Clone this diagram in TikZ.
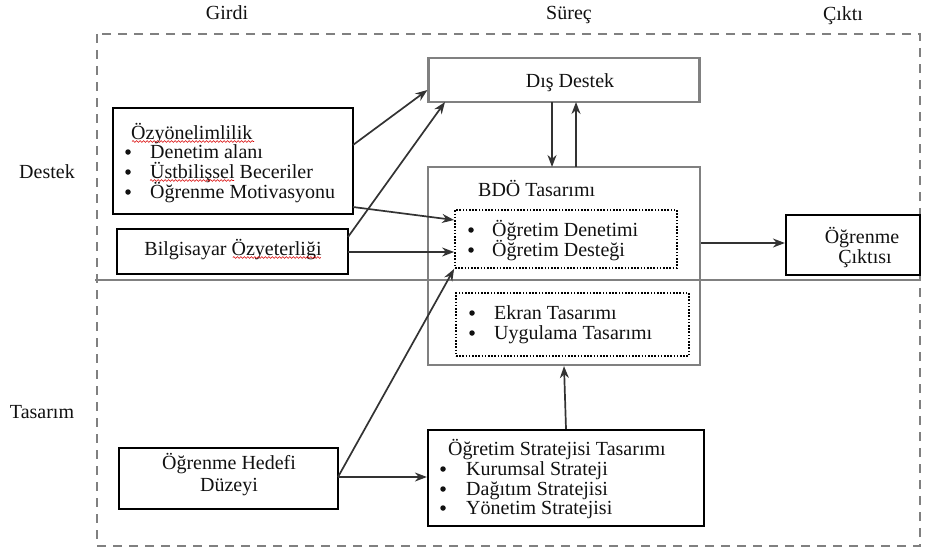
\documentclass[tikz,border=0pt]{standalone}
\usepackage{fontspec}
\setmainfont{Liberation Serif}
\usetikzlibrary{arrows.meta,decorations.pathmorphing}

\definecolor{frame}{HTML}{808080}
\definecolor{edge}{HTML}{333333}
\definecolor{ink}{HTML}{111111}

\tikzset{
  every node/.style={font=\fontsize{20}{20}\selectfont, text=ink, inner sep=0pt},
  txt/.style={anchor=base},
  ltxt/.style={anchor=base west},
  blackbox/.style={draw=black, line width=2.2pt, inner sep=0pt},
  graybox/.style={draw=frame, line width=2.2pt, inner sep=0pt},
  dotbox/.style={draw=black, line width=1.8pt, dash pattern=on 1.6pt off 1.6pt, inner sep=0pt},
  bul/.style={circle, fill=ink, draw=none, minimum size=5.5pt, inner sep=0pt},
  arr/.style={draw=edge, line width=1.7pt, -{Stealth[length=12pt,width=9pt]}},
  spell/.style={draw=red!85!black, line width=0.6pt,
    decorate, decoration={snake, amplitude=0.9pt, segment length=3.5pt}},
}

% a bullet (centred on the line) and its text, whose baseline lies 6pt lower
\newcommand{\bulletline}[5]{%
  \node[bul] (#1b) at (#2,#4) {};
  \node[ltxt] (#1t) at (#3,#4+6) {#5};
}

\begin{document}
\begin{tikzpicture}[x=1pt,y=-1pt]
\useasboundingbox (0,0) rectangle (939,551);

% outer frame and the band divider
\draw[frame, line width=2.2pt, dash pattern=on 9pt off 7pt] (97,34) rectangle (920,546);
\draw[frame, line width=2.2pt] (95,280) -- (920,280);

% column and row headings
\node[txt] (girdi) at (227,20) {Girdi};
\node[txt] (surec) at (569,20) {Süreç};
\node[txt] (cikti) at (843,21) {Çıktı};
\node[txt] (destek) at (47,178) {Destek};
\node[txt] (tasarim) at (42,418) {Tasarım};

% process column
\node[graybox, minimum width=271pt, minimum height=44pt] (dis) at (564,80) {};
\node[txt] (dist) at (570,87) {Dış Destek};

\node[graybox, minimum width=272pt, minimum height=198pt] (bdo) at (564,266) {};
\node[ltxt] (bdot) at (478,196) {BDÖ Tasarımı};

\node[dotbox, minimum width=222pt, minimum height=58pt] (ogr) at (566,239) {};
\bulletline{ogra}{471}{492}{230}{Öğretim Denetimi}
\bulletline{ogrb}{471}{492}{250}{Öğretim Desteği}

\node[dotbox, minimum width=233pt, minimum height=63pt] (ekr) at (572.5,324.5) {};
\bulletline{ekra}{472}{494}{313}{Ekran Tasarımı}
\bulletline{ekrb}{472}{494}{333}{Uygulama Tasarımı}

\node[blackbox, minimum width=276pt, minimum height=96pt] (str) at (566,478) {};
\node[ltxt] (strt) at (448,455) {Öğretim Stratejisi Tasarımı};
\bulletline{stra}{443}{466}{469}{Kurumsal Strateji}
\bulletline{strb}{443}{466}{489}{Dağıtım Stratejisi}
\bulletline{strc}{443}{466}{508}{Yönetim Stratejisi}

% input column
\node[blackbox, minimum width=240pt, minimum height=106pt] (ozy) at (233,161) {};
\node[ltxt] (ozyt) at (131,139) {Özyönelimlilik};
\bulletline{ozya}{128}{150}{152}{Denetim alanı}
\bulletline{ozyb}{128}{150}{172}{Üstbilişsel Beceriler}
\bulletline{ozyc}{128}{150}{192}{Öğrenme Motivasyonu}

\node[blackbox, minimum width=231pt, minimum height=45pt] (bil) at (232.5,251.5) {};
\node[txt] (bilt) at (233,255) {Bilgisayar Özyeterliği};

\node[blackbox, minimum width=219pt, minimum height=61pt] (hed) at (228.5,478.5) {};
\node[txt] (hedt1) at (229,469) {Öğrenme Hedefi};
\node[txt] (hedt2) at (229,491) {Düzeyi};

% output column
\node[blackbox, minimum width=134pt, minimum height=60pt] (cik) at (853,245) {};
\node[txt] (cikt1) at (862,243) {Öğrenme};
\node[txt] (cikt2) at (865,263) {Çıktısı};

% spelling marks under flagged words
\draw[spell] (ozyt.base west) ++(1,2.5) -- ++(122,0);
\draw[spell] (ozybt.base west) ++(0,2.5) -- ++(84,0);
\draw[spell] ([xshift=-89pt]bilt.base east) ++(0,2.5) -- ++(88,0);

% connectors
\coordinate (ozyR1) at (353,145);
\coordinate (ozyR2) at (353,207);
\coordinate (bilR1) at (348,237);
\coordinate (bilR2) at (348,252);
\coordinate (hedR) at (338,477);
\draw[arr] (ozyR1) -- (dis.west |- 0,90);
\draw[arr] (bilR1) -- (445,102);
\draw[arr] (ozyR2) -- (ogr.west |- 0,220);
\draw[arr] (bilR2) -- (ogr.west |- 0,252);
\draw[arr] (hedR) -- (ogr.south west);
\draw[arr] (hedR) -- (str.west |- hedR);
\draw[arr] (str.north) -- (bdo.south);
\draw[arr] (552,102) -- (552,167);
\draw[arr] (576,167) -- (576,102);
\draw[arr] (bdo.east |- 0,243) -- (cik.west |- 0,243);
\end{tikzpicture}
\end{document}
